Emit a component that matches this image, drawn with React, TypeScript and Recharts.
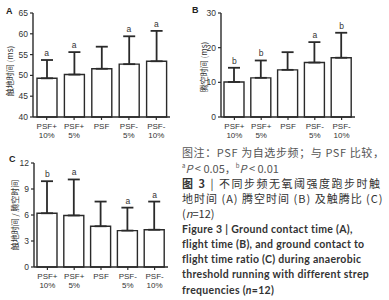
import React from "react";
import {
  Bar,
  ComposedChart,
  ErrorBar,
  LabelList,
  Line,
  XAxis,
  YAxis,
} from "recharts";

const categories = ["PSF+\n10%", "PSF+\n5%", "PSF", "PSF-\n5%", "PSF-\n10%"];

// A: ground contact time (ms)
const contactMean = [49.3, 50.2, 51.6, 52.7, 53.4];
const contactSd = [4.4, 5.4, 5.3, 6.7, 7.3];
const contactSig = ["a", "a", "", "a", "a"];
const contactTicks = [40, 45, 50, 55, 60, 65];

// B: flight time (ms)
const flightMean = [10.1, 11.3, 13.6, 15.7, 17.1];
const flightSd = [4.1, 5.0, 5.1, 5.9, 7.2];
const flightSig = ["b", "b", "", "a", "b"];
const flightTicks = [0, 10, 20, 30];

// C: contact / flight ratio
const ratioMean = [6.2, 5.95, 4.7, 4.2, 4.3];
const ratioSd = [3.7, 4.15, 2.85, 2.65, 3.25];
const ratioSig = ["b", "a", "", "a", "a"];
const ratioTicks = [0, 3, 6, 9, 12];

const INK = "#2a2a2a";
const TICK_FONT = "'Liberation Sans', Arial, sans-serif";
const CJK_FONT = "'Noto Sans CJK SC', sans-serif";

const buildRows = (mean: number[], sd: number[], sig: string[]) =>
  categories.map((name, i) => ({
    name,
    mean: mean[i],
    err: [0, sd[i]],
    top: mean[i] + sd[i],
    sig: sig[i],
  }));

const CategoryTick = (props: any) => {
  const { x, y, payload } = props;
  const lines = String(payload.value).split("\n");
  return (
    <g transform={`translate(${x},${y})`}>
      <text textAnchor="middle" fontSize={8} fill="#333" fontFamily={TICK_FONT}>
        {lines.map((l, i) => (
          <tspan key={i} x={0} dy={i === 0 ? 7 : 9}>
            {l}
          </tspan>
        ))}
      </text>
    </g>
  );
};

const yTitle = (text: string, dx: number, dy: number) => (props: any) => {
  const vb = props.viewBox;
  const cx = vb.x + dx;
  const cy = vb.y + vb.height / 2 + dy;
  return (
    <text
      x={cx}
      y={cy}
      transform={`rotate(-90 ${cx} ${cy})`}
      textAnchor="middle"
      dominantBaseline="central"
      fontSize={8}
      fill="#333"
      fontFamily={CJK_FONT}
    >
      {text}
    </text>
  );
};

const SigLabel = (props: any) => {
  const { x, y, value } = props;
  if (!value) return null;
  return (
    <text x={x} y={y - 4} textAnchor="middle" fontSize={8.5} fill="#333" fontFamily={TICK_FONT}>
      {value}
    </text>
  );
};

interface PanelProps {
  mean: number[];
  sd: number[];
  sig: string[];
  ticks: number[];
  title: string;
  titleDx: number;
  titleDy: number;
  width: number;
  axisWidth: number;
  left: number;
  top: number;
}

function Panel(p: PanelProps) {
  const rows = buildRows(p.mean, p.sd, p.sig);
  return (
    <div style={{ position: "absolute", left: p.left, top: p.top }}>
      <ComposedChart
        width={p.width}
        height={145}
        data={rows}
        margin={{ top: 13, right: 0, bottom: 0, left: 0 }}
        barCategoryGap={4}
      >
        <XAxis
          dataKey="name"
          interval={0}
          tick={<CategoryTick />}
          tickSize={3}
          tickMargin={2}
          height={28}
          axisLine={{ stroke: INK, strokeWidth: 1.4 }}
          tickLine={{ stroke: INK, strokeWidth: 1.2 }}
        />
        <YAxis
          type="number"
          domain={[p.ticks[0], p.ticks[p.ticks.length - 1]]}
          ticks={p.ticks}
          width={p.axisWidth}
          tickSize={3}
          tickMargin={2}
          tick={{ fontSize: 8.5, fill: "#333", fontFamily: TICK_FONT }}
          axisLine={{ stroke: INK, strokeWidth: 1.4 }}
          tickLine={{ stroke: INK, strokeWidth: 1.2 }}
          label={yTitle(p.title, p.titleDx, p.titleDy)}
        />
        <Bar
          dataKey="mean"
          fill="#fff"
          stroke={INK}
          strokeWidth={1.4}
          barSize={20}
          isAnimationActive={false}
        >
          <ErrorBar dataKey="err" width={6} stroke={INK} strokeWidth={1.8} isAnimationActive={false} />
        </Bar>
        <Line
          dataKey="top"
          stroke="none"
          dot={false}
          activeDot={false}
          legendType="none"
          isAnimationActive={false}
        >
          <LabelList dataKey="sig" content={<SigLabel />} />
        </Line>
      </ComposedChart>
    </div>
  );
}

const panelLetter: React.CSSProperties = {
  position: "absolute",
  fontFamily: TICK_FONT,
  fontWeight: 700,
  fontSize: 9,
  color: "#222",
  lineHeight: "10px",
};

const captionLine = (top: number): React.CSSProperties => ({
  position: "absolute",
  left: 182,
  top,
  whiteSpace: "nowrap",
  lineHeight: "12px",
  color: "#333",
});

const cn: React.CSSProperties = { fontFamily: CJK_FONT, fontSize: 11 };
const en: React.CSSProperties = {
  fontFamily: "Lato, 'Open Sans', sans-serif",
  fontWeight: 700,
  fontSize: 10.5,
  letterSpacing: 0.3,
};

export default function App() {
  return (
    <div
      style={{
        position: "absolute",
        left: 0,
        top: 0,
        width: 389,
        height: 300,
        background: "#fff",
        overflow: "hidden",
      }}
    >
      <Panel
        mean={contactMean}
        sd={contactSd}
        sig={contactSig}
        ticks={contactTicks}
        title="触地时间 (ms)"
        titleDx={9}
        titleDy={6}
        width={170}
        axisWidth={33}
        left={0}
        top={0}
      />
      <Panel
        mean={flightMean}
        sd={flightSd}
        sig={flightSig}
        ticks={flightTicks}
        title="腾空时间 (ms)"
        titleDx={15}
        titleDy={2}
        width={167}
        axisWidth={33}
        left={188}
        top={0}
      />
      <Panel
        mean={ratioMean}
        sd={ratioSd}
        sig={ratioSig}
        ticks={ratioTicks}
        title="触地时间 / 腾空时间"
        titleDx={14}
        titleDy={0}
        width={168}
        axisWidth={34}
        left={0}
        top={150}
      />
      <div style={{ ...panelLetter, left: 6, top: 6 }}>A</div>
      <div style={{ ...panelLetter, left: 192, top: 5 }}>B</div>
      <div style={{ ...panelLetter, left: 9, top: 154 }}>C</div>

      <div style={{ ...captionLine(146), ...cn, color: "#555", letterSpacing: 0.6 }}>
        图注：PSF 为自选步频；与 PSF 比较，
      </div>
      <div style={{ ...captionLine(162), ...cn, color: "#555" }}>
        <sup style={{ fontSize: 6, lineHeight: 0 }}>a</sup>
        <i>P</i> &lt; 0.05，<sup style={{ fontSize: 6, lineHeight: 0 }}>b</sup>
        <i>P</i> &lt; 0.01
      </div>
      <div style={{ ...captionLine(177), ...cn, letterSpacing: 1.5 }}>
        <b>图 3</b> | 不同步频无氧阈强度跑步时触
      </div>
      <div style={{ ...captionLine(192), ...cn, letterSpacing: 1 }}>
        地时间 (A) 腾空时间 (B) 及触腾比 (C)
      </div>
      <div style={{ ...captionLine(207), ...cn }}>
        (<i>n</i>=12)
      </div>
      <div style={{ ...captionLine(223), ...en }}>Figure 3 | Ground contact time (A),</div>
      <div style={{ ...captionLine(238), ...en }}>flight time (B), and ground contact to</div>
      <div style={{ ...captionLine(253), ...en }}>flight time ratio (C) during anaerobic</div>
      <div style={{ ...captionLine(268), ...en }}>threshold running with different strep</div>
      <div style={{ ...captionLine(284), ...en }}>
        frequencies (<i>n</i>=12)
      </div>
    </div>
  );
}
